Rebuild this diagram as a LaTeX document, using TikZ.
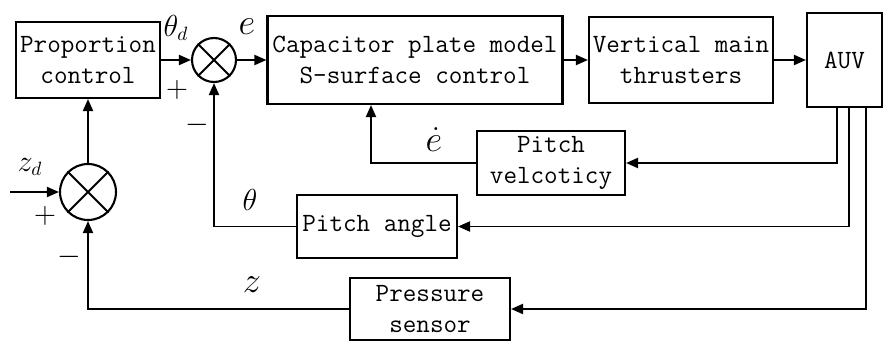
\documentclass[tikz,border=0pt]{standalone}
\usepackage{amsmath}
\usetikzlibrary{arrows.meta,calc,positioning}
\tikzset{
  block/.style={
    draw,
    line width=1.2pt,
    align=center,
    inner sep=0pt,
    font=\fontsize{15}{17.5}\selectfont\ttfamily
  },
  summ/.style={
    shape=circle,
    draw,
    line width=1.2pt,
    inner sep=0pt
  },
  sig/.style={
    line width=1.1pt,
    -{Triangle[length=2.4mm,width=2mm]}
  },
  lbl/.style={
    inner sep=0pt,
    font=\fontsize{16}{16}\selectfont
  },
  biglbl/.style={
    inner sep=0pt,
    font=\fontsize{22}{22}\selectfont
  }
}

\begin{document}
\begin{tikzpicture}[x=0.02cm,y=-0.02cm]
  \useasboundingbox (0,0) rectangle (885,341);
  % forward path
  \node[block, minimum width=2.88cm, minimum height=1.52cm] (prop) at (88,60) {Proportion\\control};
  \node[summ, minimum size=0.88cm] (s1) at (214,60) {};
  \draw[line width=1.1pt] (s1.45) -- (s1.225) (s1.135) -- (s1.315);
  \node[block, minimum width=5.9cm, minimum height=1.76cm] (cap) at (415,60) {Capacitor plate model\\S-surface control};
  \node[block, minimum width=3.68cm, minimum height=1.72cm] (vert) at (681,60) {Vertical main\\thrusters};
  \node[block, minimum width=1.5cm, minimum height=1.88cm] (auv) at (844.5,60) {AUV};
  % feedback blocks
  \node[block, minimum width=2.96cm, minimum height=1.28cm] (pvel) at (551,163) {Pitch\\velcoticy};
  \node[block, minimum width=3.2cm, minimum height=1.26cm] (pang) at (377,226.5) {Pitch angle};
  \node[block, minimum width=3.2cm, minimum height=1.24cm] (psen) at (430,309) {Pressure\\sensor};
  \node[summ, minimum size=1.12cm] (s2) at (88,192) {};
  \draw[line width=1.1pt] (s2.45) -- (s2.225) (s2.135) -- (s2.315);
  \coordinate (zin) at (10,192);

  \draw[sig] (prop.east) -- (s1.west);
  \draw[sig] (s1.east) -- (cap.west);
  \draw[sig] (cap.east) -- (vert.west);
  \draw[sig] (vert.east) -- (auv.west);
  \draw[sig] ($(auv.south)+(-7.5,0)$) |- (pvel.east);
  \draw[sig] ($(auv.south)+(4.5,0)$) |- (pang.east);
  \draw[sig] ($(auv.south)+(21.5,0)$) |- (psen.east);
  \draw[sig] (pvel.west) -| ($(cap.south)+(-44,0)$);
  \draw[sig] (pang.west) -| (s1.south);
  \draw[sig] (psen.west) -| (s2.south);
  \draw[sig] (s2.north) -- (prop.south);
  \draw[sig] (zin) -- (s2.west);

  % signal labels
  \node[lbl] (thd) at (176,28) {$\theta_d$};
  \node[biglbl] (e) at (247,27) {$e$};
  \node[lbl] (p1) at (177,90) {$+$};
  \node[lbl] (m1) at (197,125) {$-$};
  \node[lbl] (zd) at (30,167) {$z_d$};
  \node[lbl] (p2) at (45,216) {$+$};
  \node[lbl] (m2) at (69,257) {$-$};
  \node[lbl] (th) at (250,200) {$\theta$};
  \node[biglbl] (z) at (252,285) {$z$};
  \node[biglbl] (ed) at (434,140) {$\dot{e}$};
\end{tikzpicture}
\end{document}
